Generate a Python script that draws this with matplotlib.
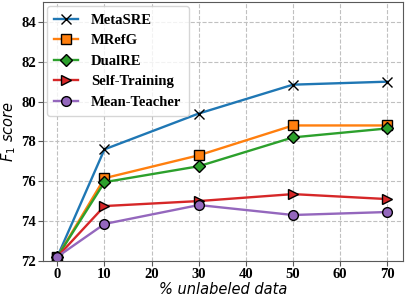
import matplotlib.pyplot as plt

x = [0, 10, 30, 50, 70]
metasre = [72.2, 77.6, 79.4, 80.85, 81.0]
mrefg = [72.2, 76.15, 77.3, 78.8, 78.8]
dualre = [72.2, 75.95, 76.75, 78.2, 78.65]
self_training = [72.2, 74.75, 75.0, 75.35, 75.1]
mean_teacher = [72.2, 73.85, 74.8, 74.3, 74.45]

fig = plt.figure(figsize=(4.07, 2.97), dpi=100)
ax = fig.add_axes([0.105, 0.122, 0.886, 0.871])

ax.plot(x, metasre, color='#1f77b4', marker='x', mec='black', ms=7, lw=1.7, label='MetaSRE')
ax.plot(x, mrefg, color='#ff7f0e', marker='s', mec='black', ms=6.5, lw=1.7, label='MRefG')
ax.plot(x, dualre, color='#2ca02c', marker='D', mec='black', ms=6.5, lw=1.7, label='DualRE')
ax.plot(x, self_training, color='#d62728', marker='>', mec='black', ms=7, lw=1.7, label='Self-Training')
ax.plot(x, mean_teacher, color='#9467bd', marker='o', mec='black', ms=7, lw=1.7, label='Mean-Teacher')

ax.set_xlim(-3.1, 73.4)
ax.set_ylim(72, 85)
ax.set_xticks([0, 10, 20, 30, 40, 50, 60, 70])
ax.set_yticks([72, 74, 76, 78, 80, 82, 84])
ax.tick_params(axis='both', pad=1.5, length=3.5, color='0.35')
for t in ax.get_xticklabels() + ax.get_yticklabels():
    t.set_fontfamily('Liberation Serif')
    t.set_fontweight('bold')
    t.set_fontsize(10.5)
for s in ax.spines.values():
    s.set_color('0.35')
ax.grid(True, ls='--', color='#c0c0c0', lw=0.8)
ax.set_xlabel('% unlabeled data', fontstyle='italic', fontsize=10.5, labelpad=1)
ax.set_ylabel('$F_1$ score', fontstyle='italic', fontsize=10.5, labelpad=2)
ax.legend(loc='upper left', prop={'family': 'Liberation Serif', 'weight': 'bold', 'size': 10.5},
          handlelength=1.6, handletextpad=0.9, labelspacing=0.5, borderpad=0.5,
          borderaxespad=0.3)

fig.savefig('out.png', dpi=100)
